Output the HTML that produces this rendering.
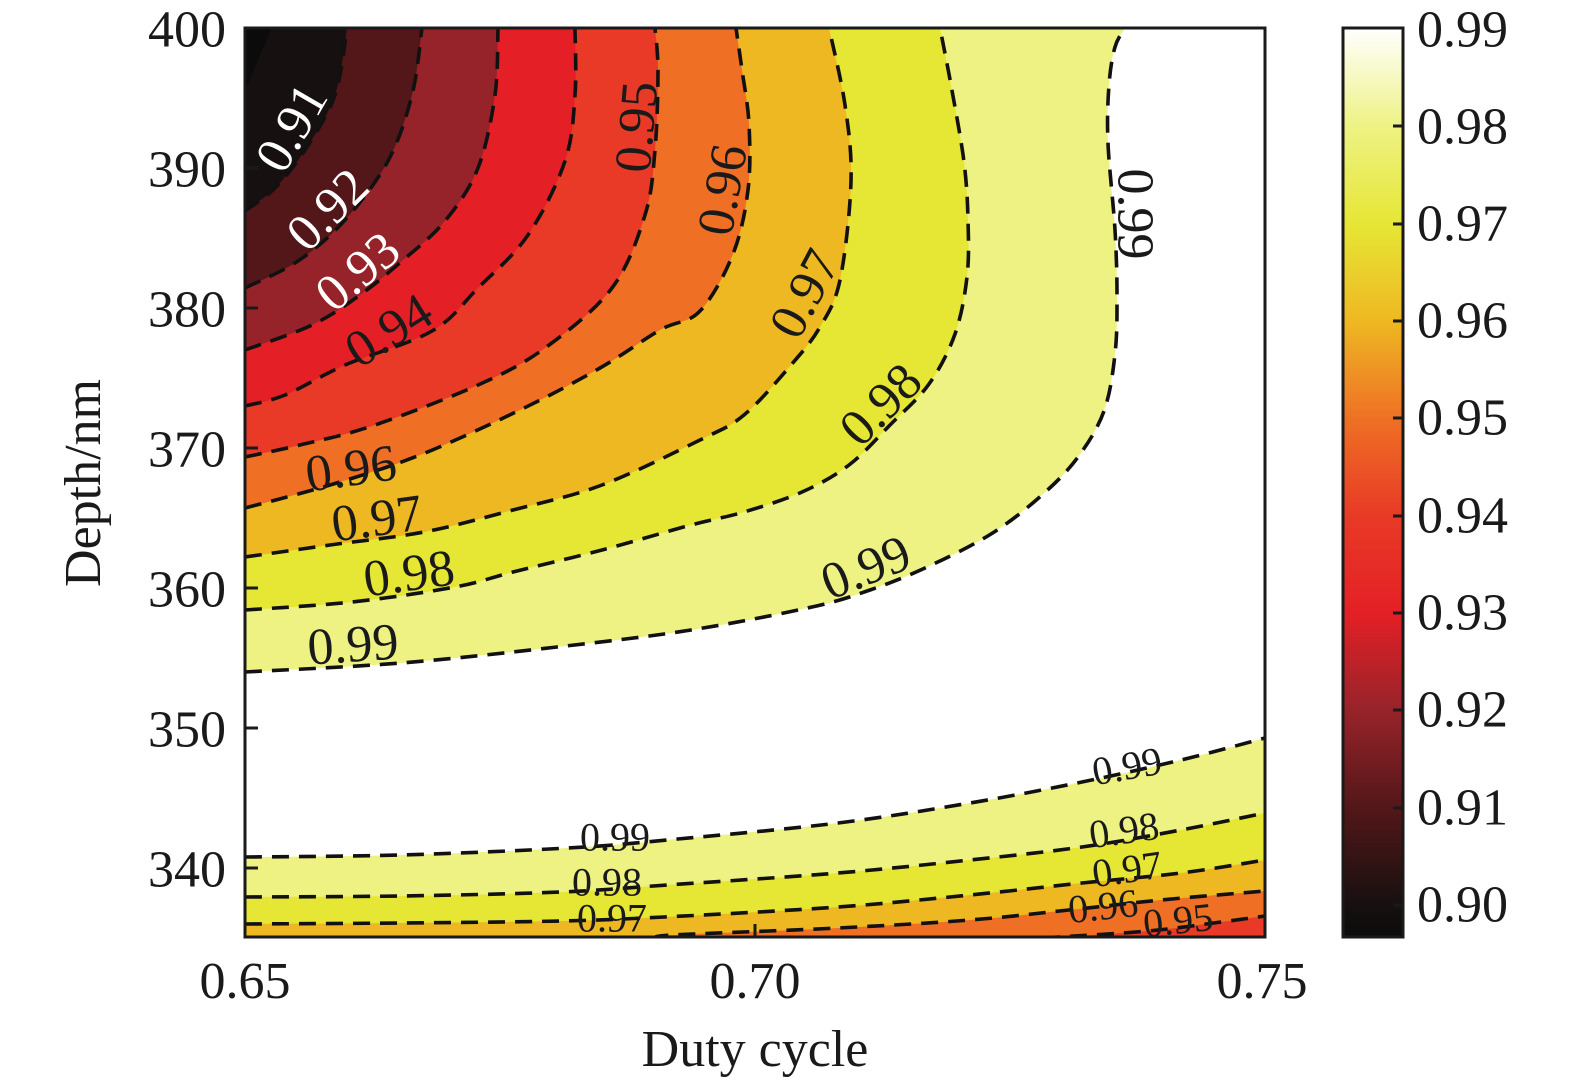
<!DOCTYPE html>
<html><head><meta charset="utf-8"><style>
html,body{margin:0;padding:0;background:#fff;}
svg{display:block;}
text{font-family:"Liberation Serif",serif;fill:#1a1a1a;}
</style></head><body>
<svg width="1575" height="1088" viewBox="0 0 1575 1088" xmlns="http://www.w3.org/2000/svg">
<defs>
<linearGradient id="cb" x1="0" y1="0" x2="0" y2="1">
<stop offset="0" stop-color="#ffffff"/>
<stop offset="0.109" stop-color="#eef283"/>
<stop offset="0.216" stop-color="#e6e635"/>
<stop offset="0.323" stop-color="#eeb822"/>
<stop offset="0.430" stop-color="#ef7025"/>
<stop offset="0.537" stop-color="#e83a26"/>
<stop offset="0.644" stop-color="#e42026"/>
<stop offset="0.751" stop-color="#97232a"/>
<stop offset="0.858" stop-color="#531719"/>
<stop offset="0.965" stop-color="#171010"/>
<stop offset="1" stop-color="#0b0b0b"/>
</linearGradient>
<clipPath id="pa"><rect x="245" y="28" width="1020" height="909"/></clipPath>
</defs>
<g clip-path="url(#pa)">
<rect x="245" y="28" width="1020" height="909" fill="#fff"/>
<g id="fills">
<path fill="#eef283" data-c="top" data-p="245,672 401,663 557,647 691,630 812,607 870,590 925,568 991,534 1042,495 1078,457 1104,411 1115,354 1117,296 1115,230 1108,143 1109,85 1115,47 1125,28"/>
<path fill="#e6e635" data-c="top" data-p="245,610 352,602 455,587 513,572 602,550 691,525 744,512 802,492 849,465 890,425 929,384 955,334 967,277 968,220 964,162 951,85 940,28"/>
<path fill="#eeb822" data-c="top" data-p="245,557 330,545 424,532 513,510 602,485 700,440 744,415 791,365 820,327 840,280 851,181 845,105 829,28"/>
<path fill="#ef7025" data-c="top" data-p="245,508 330,485 420,455 520,410 600,368 660,330 700,311 733,254 748,190 749,124 742,70 736,28"/>
<path fill="#e83a26" data-c="top" data-p="245,457 300,445 372,426 478,385 545,348 612,288 645,215 655,150 658,71 655,28"/>
<path fill="#e42026" data-c="top" data-p="245,406 285,395 345,365 432,331 478,288 528,235 565,161 575,95 575,28"/>
<path fill="#97232a" data-c="top" data-p="245,350 312,325 360,295 402,261 445,221 478,168 495,95 498,28"/>
<path fill="#531719" data-c="top" data-p="245,288 298,261 345,220 388,161 412,95 422,28"/>
<path fill="#171010" data-c="top" data-p="245,211 275,188 305,150 335,95 347,28"/>
<path fill="#0b0b0b" data-c="top" data-p="245,91 258,60 272,28"/>
<path fill="#eef283" data-c="bot" data-p="245,857 400,855 568,848 667,840 838,823 970,803 1082,782 1181,760 1265,738"/>
<path fill="#e6e635" data-c="bot" data-p="245,897 400,896 561,892 667,885 838,873 970,860 1082,847 1181,830 1265,813"/>
<path fill="#eeb822" data-c="bot" data-p="245,924 400,923 561,921 664,917 838,907 970,895 1082,883 1181,873 1265,860"/>
<path fill="#ef7025" data-c="br" data-p="660,938 673,935 838,928 970,920 1069,910 1161,900 1265,891"/>
<path fill="#e83a26" data-c="br" data-p="1043,938 1148,931 1221,922 1265,916"/>
</g>
<g id="lines" fill="none" stroke="#111" stroke-width="3.6" stroke-dasharray="17 10"></g>
</g>
<!-- contour labels -->
<g font-size="52" text-anchor="middle" dominant-baseline="central">
<text x="292" y="128" transform="rotate(-60 292 128)" style="fill:#fff">0.91</text>
<text x="328" y="210" transform="rotate(-45 328 210)" style="fill:#fff">0.92</text>
<text x="358" y="272" transform="rotate(-40 358 272)" style="fill:#fff">0.93</text>
<text x="389" y="331" transform="rotate(-32 389 331)">0.94</text>
<text x="637" y="127" transform="rotate(-85 637 127)">0.95</text>
<text x="723" y="190" transform="rotate(-80 723 190)">0.96</text>
<text x="805" y="294" transform="rotate(-62 805 294)">0.97</text>
<text x="881" y="405" transform="rotate(-45 881 405)">0.98</text>
<text x="1135" y="214" transform="rotate(90 1135 214)">0.99</text>
<text x="351" y="469" transform="rotate(-8 351 469)">0.96</text>
<text x="377" y="519" transform="rotate(-8 377 519)">0.97</text>
<text x="409" y="574" transform="rotate(-8 409 574)">0.98</text>
<text x="353" y="645" transform="rotate(-4 353 645)">0.99</text>
<text x="866" y="568" transform="rotate(-22 866 568)">0.99</text>
</g>
<g font-size="40" text-anchor="middle" dominant-baseline="central">
<text x="615" y="837">0.99</text>
<text x="607" y="882">0.98</text>
<text x="612" y="918">0.97</text>
<text x="1127" y="766" transform="rotate(-10 1127 766)">0.99</text>
<text x="1124" y="830" transform="rotate(-8 1124 830)">0.98</text>
<text x="1127" y="869" transform="rotate(-8 1127 869)">0.97</text>
<text x="1103" y="906" transform="rotate(-6 1103 906)">0.96</text>
<text x="1178" y="920" transform="rotate(-6 1178 920)">0.95</text>
</g>
<!-- axes frame & ticks -->
<rect x="245" y="28" width="1020" height="909" fill="none" stroke="#1a1a1a" stroke-width="3"/>
<g stroke="#1a1a1a" stroke-width="3">
<line x1="755" y1="937" x2="755" y2="924"/>
<line x1="245" y1="168" x2="258" y2="168"/><line x1="245" y1="308" x2="258" y2="308"/><line x1="245" y1="448" x2="258" y2="448"/>
<line x1="245" y1="588" x2="258" y2="588"/><line x1="245" y1="728" x2="258" y2="728"/><line x1="245" y1="868" x2="258" y2="868"/>
</g>
<g font-size="52" text-anchor="end" dominant-baseline="central">
<text x="226" y="30">400</text><text x="226" y="170">390</text><text x="226" y="310">380</text>
<text x="226" y="450">370</text><text x="226" y="590">360</text><text x="226" y="730">350</text><text x="226" y="870">340</text>
</g>
<g font-size="52" text-anchor="middle">
<text x="245" y="998">0.65</text><text x="755" y="998">0.70</text><text x="1262" y="998">0.75</text>
<text x="755" y="1066">Duty cycle</text>
<text x="100" y="483" transform="rotate(-90 100 483)">Depth/nm</text>
</g>
<!-- colorbar -->
<rect x="1343" y="28" width="60" height="909" fill="url(#cb)" stroke="#1a1a1a" stroke-width="3"/>
<g stroke="#1a1a1a" stroke-width="3">
<line x1="1403" y1="126" x2="1393" y2="126"/><line x1="1403" y1="224" x2="1393" y2="224"/><line x1="1403" y1="321" x2="1393" y2="321"/>
<line x1="1403" y1="418" x2="1393" y2="418"/><line x1="1403" y1="516" x2="1393" y2="516"/><line x1="1403" y1="613" x2="1393" y2="613"/>
<line x1="1403" y1="710" x2="1393" y2="710"/><line x1="1403" y1="808" x2="1393" y2="808"/><line x1="1403" y1="905" x2="1393" y2="905"/>
</g>
<g font-size="52" dominant-baseline="central">
<text x="1417" y="30">0.99</text><text x="1417" y="127">0.98</text><text x="1417" y="224">0.97</text>
<text x="1417" y="321">0.96</text><text x="1417" y="418">0.95</text><text x="1417" y="516">0.94</text>
<text x="1417" y="613">0.93</text><text x="1417" y="710">0.92</text><text x="1417" y="808">0.91</text><text x="1417" y="905">0.90</text>
</g>
</svg>
<script>
(function(){
function smooth(pts){
  var d="M"+pts[0][0]+","+pts[0][1];
  for(var i=0;i<pts.length-1;i++){
    var p0=pts[i-1]||pts[i],p1=pts[i],p2=pts[i+1],p3=pts[i+2]||p2;
    var c1x=p1[0]+(p2[0]-p0[0])/6,c1y=p1[1]+(p2[1]-p0[1])/6;
    var c2x=p2[0]-(p3[0]-p1[0])/6,c2y=p2[1]-(p3[1]-p1[1])/6;
    d+=" C"+c1x.toFixed(1)+","+c1y.toFixed(1)+" "+c2x.toFixed(1)+","+c2y.toFixed(1)+" "+p2[0]+","+p2[1];
  }
  return d;
}
var ns="http://www.w3.org/2000/svg";
var lines=document.getElementById("lines");
var fills=document.querySelectorAll("#fills path");
for(var k=0;k<fills.length;k++){
  var f=fills[k];
  var pts=f.getAttribute("data-p").split(" ").map(function(s){return s.split(",").map(Number);});
  var c=f.getAttribute("data-c");
  var sd=smooth(pts);
  var close = c==="top" ? " L245,28 Z" : (c==="bot" ? " L1265,938 L245,938 Z" : " L1265,938 Z");
  f.setAttribute("d",sd+close);
  if(k!==9){
    var l=document.createElementNS(ns,"path");
    l.setAttribute("d",sd);
    lines.appendChild(l);
  }
}
})();
</script>
</body></html>
